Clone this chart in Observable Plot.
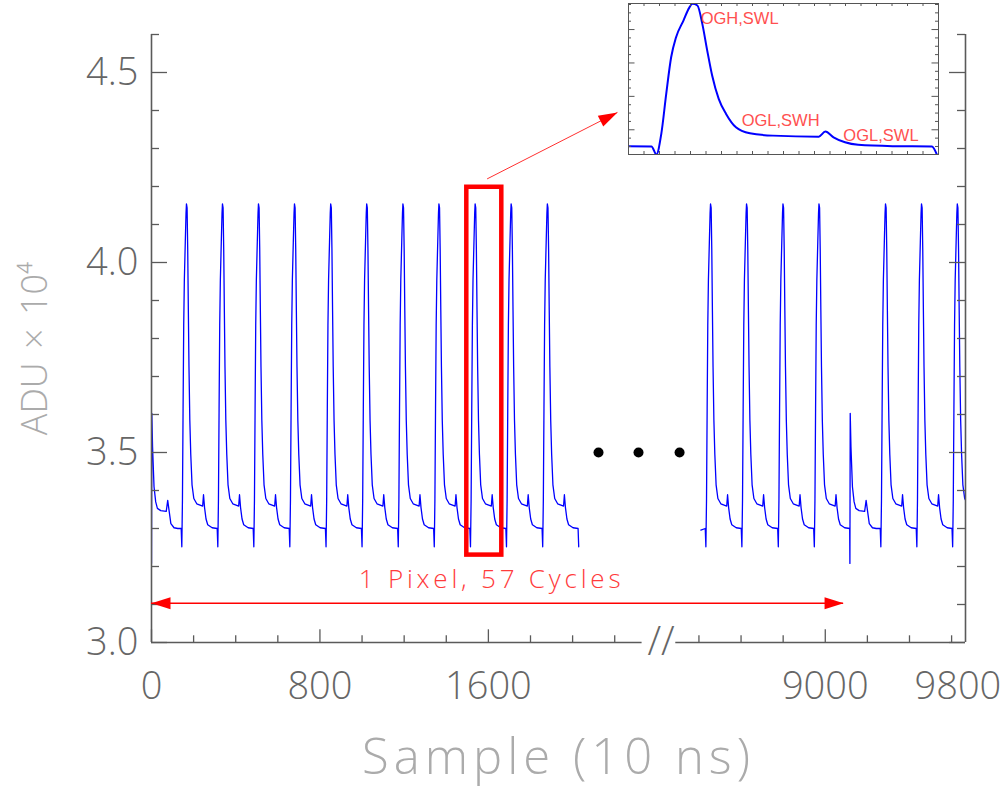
<!DOCTYPE html>
<html><head><meta charset="utf-8">
<script src="https://cdn.jsdelivr.net/npm/d3@7"></script>
<script src="https://cdn.jsdelivr.net/npm/@observablehq/plot@0.6"></script>
<style>
body{margin:0;background:#fff;}
#wrap{position:relative;width:1004px;height:788px;overflow:hidden;background:#fff;}
#wrap svg{position:absolute;}
</style></head><body><div id="wrap"></div>
<script>
// ---------------- data ----------------
// One ordinary readout cycle, sample offsets from its opening dip, and ADU/1e4 values
const regOffset = [-3, 0, 3, 6, 9, 12, 16.5, 20, 22, 25, 28, 31, 34, 38, 42.5, 48.5, 57, 71, 99, 103, 108, 115, 123, 144];
const regValue  = [3.300, 3.252, 3.376, 3.615, 3.834, 3.954, 4.054, 4.130, 4.154, 4.144, 4.034, 3.874, 3.725, 3.585, 3.495, 3.415, 3.379, 3.365, 3.359, 3.389, 3.355, 3.325, 3.310, 3.302];
// First (pixel-start) cycle, offsets from its low point
const pixOffset = [-1, 0, 1.5, 5, 12, 20, 28, 44, 70, 77, 84, 92, 107, 125];
const pixValue  = [3.300, 3.208, 3.603, 3.515, 3.410, 3.370, 3.353, 3.347, 3.345, 3.374, 3.345, 3.313, 3.302, 3.300];
// Where each pixel starts and where each ordinary cycle's dip falls (samples)
const pixelStarts = [0, 9117];
const cycleDips = [144, 315, 486, 657, 829, 1000, 1172, 1343, 1515, 1686, 1858, 2029,
                   8433, 8604, 8777, 8948, 9264, 9435, 9605];
const rightRecordStart = [8409, 3.296];
// recorded stretches shown (samples)
const shownRanges = [[0, 2029], [8409, 9866]];
const breakShift = 5800;   // samples removed by the axis break (9000 is drawn at 3200)

// axes
const yMajor = [3.0, 3.5, 4.0, 4.5];
const yMinor = [3.1, 3.2, 3.3, 3.4, 3.6, 3.7, 3.8, 3.9, 4.1, 4.2, 4.3, 4.4, 4.6];
const xMajor = [0, 800, 1600, 3200];
const xMinor = [200, 400, 600, 1000, 1200, 1400, 1800, 2000, 2200, 2600, 2800, 3000, 3400, 3600, 3800];
const xLabelPos = [0, 800, 1600, 3200, 3830];
const xLabels = ["0", "800", "1600", "9000", "9800"];
const xAxisPieces = [{x1: 0, x2: 2330}, {x1: 2490, x2: 3866}];

// annotations
const zoomBox = {x1: 1497.5, x2: 1663.7, y1: 3.230, y2: 4.198};
const zoomArrow = {x1: 1594, y1: 4.220, x2: 2213, y2: 4.395};
const spanArrow = {x1: 0, x2: 3287, y: 3.103};
const spanLabel = {x: 1615, y: 3.166, text: "1 Pixel, 57 Cycles"};
const ellipsisX = [2123, 2313, 2508];
const breakMark = {x: 2420, y: 3.0, text: "//"};

// inset
const insetDomainX = [1498, 1687];
const insetDomainY = [3.252, 4.156];
const insetYMajor = [3.4, 3.6, 3.8, 4.0];
const insetYMinor = [3.25, 3.30, 3.35, 3.45, 3.50, 3.55, 3.65, 3.70, 3.75, 3.85, 3.90, 3.95, 4.05, 4.10, 4.15];
const insetLabels = [
  {s: 1542, v: 4.066, text: "OGH,SWL"},
  {s: 1567, v: 3.455, text: "OGL,SWH"},
  {s: 1629, v: 3.366, text: "OGL,SWL"}
];

// ---------------- build trace ----------------
let pts = [];
for (const s0 of pixelStarts) pixOffset.forEach((o, i) => pts.push({s: s0 + o, v: pixValue[i]}));
for (const d of cycleDips) regOffset.forEach((o, i) => pts.push({s: d + o, v: regValue[i]}));
pts.push({s: rightRecordStart[0], v: rightRecordStart[1]});
pts = pts.filter(p => shownRanges.some(([a, b]) => p.s >= a && p.s <= b)).sort((a, b) => a.s - b.s);
pts.forEach(p => { p.seg = p.s < 5000 ? "left" : "right"; p.pos = p.s < 5000 ? p.s : p.s - breakShift; });

// ---------------- main chart ----------------
const W = 1004, H = 788, mL = 151, mR = 39, mT = 34, mB = 146;
const frameW = W - mL - mR, frameH = H - mT - mB;
const xDomain = [0, 3866], yDomain = [3.0, 4.6];
const xs = d3.scaleLinear(xDomain, [mL, W - mR]);
const ys = d3.scaleLinear(yDomain, [H - mB, mT]);
const axisColor = "#5a5a5a", labelColor = "#666666", titleColor = "#ababab";
const red = "#ff0000";
const thinFont = "'Open Sans', 'Liberation Sans', sans-serif";

const head = {draw(ctx) { ctx.moveTo(0, 0); ctx.lineTo(-6, 19); ctx.lineTo(6, 19); ctx.closePath(); }};
const ang = (x1, y1, x2, y2) => Math.atan2(xs(x2) - xs(x1), -(ys(y2) - ys(y1))) * 180 / Math.PI;
const heads = [
  {x: spanArrow.x1, y: spanArrow.y, r: -90},
  {x: spanArrow.x2, y: spanArrow.y, r: 90},
  {x: zoomArrow.x2, y: zoomArrow.y2, r: ang(zoomArrow.x1, zoomArrow.y1, zoomArrow.x2, zoomArrow.y2)}
];

const main = Plot.plot({
  width: W, height: H, marginLeft: mL, marginRight: mR, marginTop: mT, marginBottom: mB,
  style: {background: "white", fontFamily: thinFont},
  x: {domain: xDomain, axis: null},
  y: {domain: yDomain, axis: null},
  marks: [
    Plot.line(pts, {x: "pos", y: "v", z: "seg", stroke: "#0000ff", strokeWidth: 1.3, clip: true}),
    // frame axes
    Plot.ruleX([xDomain[0], xDomain[1]], {x: d => d, stroke: axisColor, strokeWidth: 1.6}),
    Plot.ruleY(xAxisPieces, {y: yDomain[0], x1: "x1", x2: "x2", stroke: axisColor, strokeWidth: 1.6}),
    Plot.ruleY(yMajor, {y: d => d, insetRight: frameW - 16, stroke: axisColor, strokeWidth: 1.3}),
    Plot.ruleY(yMinor, {y: d => d, insetRight: frameW - 8, stroke: axisColor, strokeWidth: 1.3}),
    Plot.ruleY(yMajor, {y: d => d, insetLeft: frameW - 16, stroke: axisColor, strokeWidth: 1.3}),
    Plot.ruleY(yMinor, {y: d => d, insetLeft: frameW - 8, stroke: axisColor, strokeWidth: 1.3}),
    Plot.ruleX(xMajor, {x: d => d, insetTop: frameH - 12.7, stroke: axisColor, strokeWidth: 1.3}),
    Plot.ruleX(xMinor, {x: d => d, insetTop: frameH - 6.7, stroke: axisColor, strokeWidth: 1.3}),
    // tick labels
    Plot.text(xLabelPos, {x: d => d, text: (d, i) => xLabels[i], frameAnchor: "bottom", lineAnchor: "middle", dy: 44,
      fontSize: 38, fontWeight: 300, fill: labelColor}),
    Plot.text(yMajor, {y: d => d, text: d => d.toFixed(1), frameAnchor: "left", lineAnchor: "middle", dx: -13, textAnchor: "end",
      fontSize: 38, fontWeight: 300, fill: labelColor}),
    Plot.text([breakMark], {x: "x", y: "y", text: "text", fontSize: 40, fontWeight: 300, fill: labelColor, clip: false}),
    // titles
    Plot.text(["Sample (10 ns)"], {text: d => d, frameAnchor: "bottom", lineAnchor: "middle", dy: 116, fontSize: 49, fontWeight: 300, fill: titleColor}),
    Plot.text(["ADU × 10⁴"], {text: d => d, frameAnchor: "left", textAnchor: "middle", lineAnchor: "middle", dx: -116, dy: 10, rotate: -90, fontSize: 36, fontWeight: 300, fill: titleColor}),
    // annotations
    Plot.rect([zoomBox], {x1: "x1", x2: "x2", y1: "y1", y2: "y2", fill: "none", stroke: red, strokeWidth: 4.5}),
    Plot.link([zoomArrow], {x1: "x1", y1: "y1", x2: "x2", y2: "y2", stroke: "#ff3030", strokeWidth: 1}),
    Plot.ruleY([spanArrow], {y: "y", x1: "x1", x2: "x2", stroke: red, strokeWidth: 1.5}),
    Plot.dot(heads, {x: "x", y: "y", rotate: "r", symbol: head, r: 5, fill: red, stroke: "none"}),
    Plot.text([spanLabel], {x: "x", y: "y", text: "text", fontSize: 26, fontWeight: 300, fill: "#ff3b3b"}),
    Plot.dot(ellipsisX, {x: d => d, y: 3.5, r: 5, fill: "black", stroke: "none"})
  ]
});
main.style.left = "0px"; main.style.top = "0px";
main.querySelectorAll("text").forEach(t => {
  if (t.textContent === "Sample (10 ns)") t.style.letterSpacing = "5px";
  if (t.textContent === "1 Pixel, 57 Cycles") t.style.letterSpacing = "3.8px";
  if (t.textContent === "ADU × 10⁴") t.style.wordSpacing = "4px";
});
document.getElementById("wrap").appendChild(main);

// ---------------- inset ----------------
const iW = 313, iH = 154, imL = 1, imR = 2, imT = 2, imB = 1;
const ifW = iW - imL - imR, ifH = iH - imT - imB;
const insetX = d3.range(21).map(i => insetDomainX[0] + i * (insetDomainX[1] - insetDomainX[0]) / 20);
const insetPts = pts.filter(p => p.s >= 1480 && p.s <= 1686);
const inset = Plot.plot({
  width: iW, height: iH, marginLeft: imL, marginRight: imR, marginTop: imT, marginBottom: imB,
  style: {background: "white", fontFamily: "'Liberation Sans', sans-serif"},
  x: {domain: insetDomainX, axis: null},
  y: {domain: insetDomainY, axis: null},
  marks: [
    Plot.line(insetPts, {x: "s", y: "v", stroke: "#0000ff", strokeWidth: 2, curve: "monotone-x", clip: true}),
    Plot.frame({stroke: "#555", strokeWidth: 1}),
    Plot.ruleY(insetYMajor, {y: d => d, insetRight: ifW - 6.5, stroke: "#555"}),
    Plot.ruleY(insetYMinor, {y: d => d, insetRight: ifW - 3, stroke: "#555"}),
    Plot.ruleY(insetYMajor, {y: d => d, insetLeft: ifW - 6.5, stroke: "#555"}),
    Plot.ruleY(insetYMinor, {y: d => d, insetLeft: ifW - 3, stroke: "#555"}),
    Plot.ruleX(insetX, {x: d => d, insetTop: ifH - 3, stroke: "#555"}),
    Plot.ruleX(insetX, {x: d => d, insetBottom: ifH - 3, stroke: "#555"}),
    Plot.text(insetLabels, {x: "s", y: "v", text: "text", textAnchor: "start", fontSize: 16.5, fill: "#ff5050"})
  ]
});
inset.style.left = "627px"; inset.style.top = "1px";
document.getElementById("wrap").appendChild(inset);
</script></body></html>
